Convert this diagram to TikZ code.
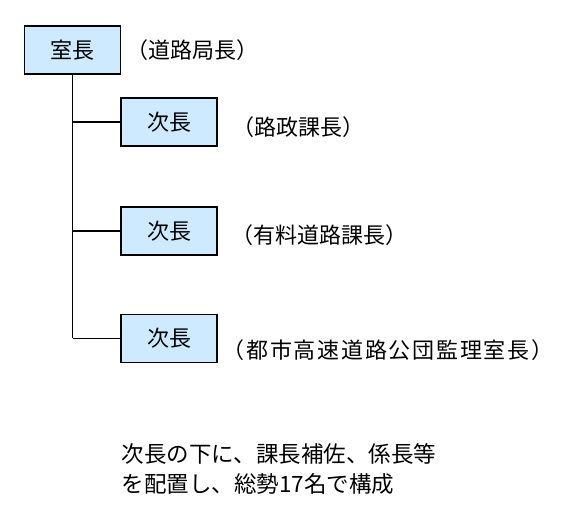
\documentclass[tikz,border=0pt]{standalone}
\usepackage{fontspec}
\newfontfamily\jpfont{Noto Sans CJK JP}
\usetikzlibrary{positioning}
\definecolor{boxblue}{RGB}{206,234,255}

\begin{document}
\begin{tikzpicture}[x=1pt, y=-1pt, line width=1.6pt,
    font=\jpfont\fontsize{22}{26}\selectfont,
    post/.style={draw, fill=boxblue, minimum width=96pt, minimum height=48pt, inner sep=0pt},
    role/.style={anchor=west}]
  \useasboundingbox (0,0) rectangle (566,521);

  %室長 (arriba)
  \node[post] (head) at (72.5,50) {室長};
  \node[role] (headrole) at (122.5,50) {（道路局長）};

  % Los tres 次長
  \node[post] (sub1) at (169,122) {次長};
  \node[post] (sub2) at (169,231) {次長};
  \node[post] (sub3) at (169,338.5) {次長};
  \node[role] (role1) at (228.5,127) {（路政課長）};
  \node[role] (role2) at (227.5,235) {（有料道路課長）};
  \node[role] (role3) at (218.5,350)
    {\addfontfeature{LetterSpace=8}（都市高速道路公団監理室長）};

  % Lineas del organigrama
  \coordinate (j1) at (head.south |- sub1.west);
  \coordinate (j2) at (head.south |- sub2.west);
  \coordinate (j3) at (head.south |- sub3.west);
  \draw (head.south) -- (j3);
  \foreach \i in {1,2,3} \draw (j\i) -- (sub\i.west);

  % Nota inferior
  \node[anchor=north west, align=left, inner sep=0pt,
    font=\jpfont\fontsize{22.5}{30}\selectfont] (note) at (121,443)
    {次長の下に、課長補佐、係長等\\を配置し、総勢17名で構成};
\end{tikzpicture}
\end{document}
